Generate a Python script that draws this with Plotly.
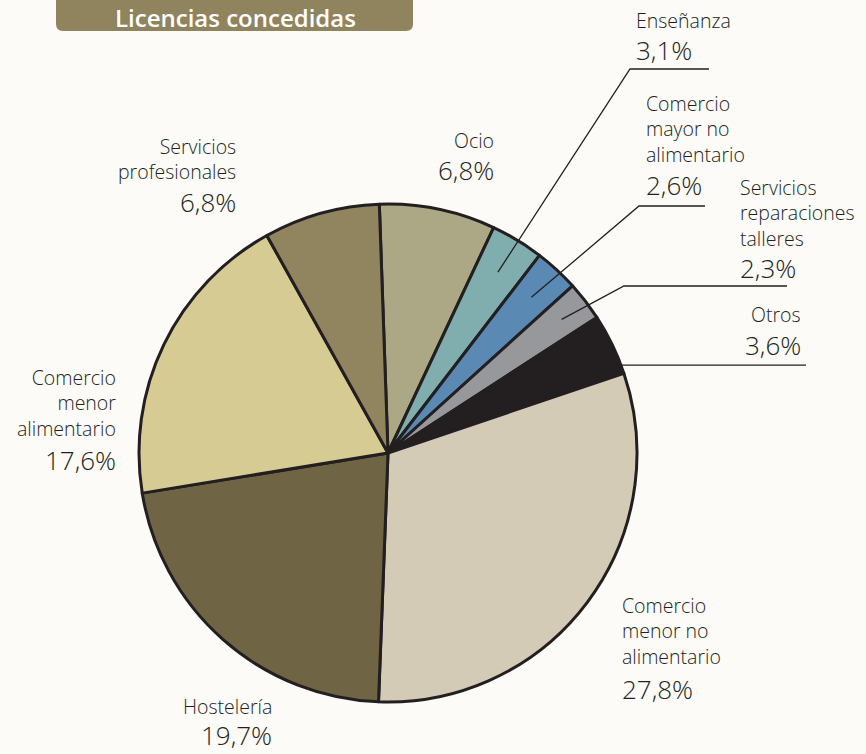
import math
import plotly.graph_objects as go

# Licencias concedidas por actividad (%), en sentido horario desde arriba
sectores = [
    "Ocio",
    "Enseñanza",
    "Comercio mayor no alimentario",
    "Servicios reparaciones talleres",
    "Otros",
    "Comercio menor no alimentario",
    "Hostelería",
    "Comercio menor alimentario",
    "Servicios profesionales",
]
porcentajes = [6.8, 3.1, 2.6, 2.3, 3.6, 27.8, 19.7, 17.6, 6.8]
etiquetas = [
    "Ocio",
    "Enseñanza",
    "Comercio<br>mayor no<br>alimentario",
    "Servicios<br>reparaciones<br>talleres",
    "Otros",
    "Comercio<br>menor no<br>alimentario",
    "Hostelería",
    "Comercio<br>menor<br>alimentario",
    "Servicios<br>profesionales",
]
colores = ["#aca886", "#80adad", "#5a89b4", "#97989b", "#231f20",
           "#d4cbb7", "#6f6444", "#d6cb93", "#918560"]

W, H = 866, 754
CX, CY, R = 388, 453, 249
ROT = -2
FONT = "Open Sans"
INK = "#231f20"


def px(x):
    return x / W


def py(y):
    return 1 - y / H


fig = go.Figure(go.Pie(
    labels=sectores,
    values=porcentajes,
    sort=False,
    direction="clockwise",
    rotation=ROT,
    marker=dict(colors=colores, line=dict(color=INK, width=3)),
    textinfo="none",
    hoverinfo="label+percent",
    showlegend=False,
    domain=dict(x=[px(CX - R), px(CX + R)], y=[py(CY + R), py(CY - R)]),
))

# Placement of each label: (anchor x, name centre y, pct centre y, align)
pos = {
    "Ocio": (496, 140, 170, "right"),
    "Enseñanza": (634, 20, 50, "left"),
    "Comercio mayor no alimentario": (644, 129.5, 185, "left"),
    "Servicios reparaciones talleres": (738, 212.5, 268, "left"),
    "Otros": (803, 315, 345, "right"),
    "Comercio menor no alimentario": (620, 631, 689, "left"),
    "Hostelería": (274, 706, 735, "right"),
    "Comercio menor alimentario": (118, 403, 460, "right"),
    "Servicios profesionales": (238, 159, 202, "right"),
}

for nombre, etq, val in zip(sectores, etiquetas, porcentajes):
    x, yn, yp, al = pos[nombre]
    fig.add_annotation(
        x=px(x), y=py(yn), xref="paper", yref="paper", text=etq,
        showarrow=False, xanchor=al, yanchor="middle", align=al,
        font=dict(family=FONT, size=19.5, color=INK, weight=300),
    )
    fig.add_annotation(
        x=px(x), y=py(yp), xref="paper", yref="paper",
        text=f"{val:.1f}%".replace(".", ","),
        showarrow=False, xanchor=al, yanchor="middle", align=al,
        font=dict(family=FONT, size=26, color=INK, weight=300),
    )

# Slice boundaries (clockwise degrees from 12 o'clock)
total = sum(porcentajes)
acum = 0.0
inicio, final = {}, {}
for nombre, val in zip(sectores, porcentajes):
    inicio[nombre] = ROT + acum / total * 360
    acum += val
    final[nombre] = ROT + acum / total * 360


def punto(ang, f):
    a = math.radians(ang)
    return CX + f * R * math.sin(a), CY - f * R * math.cos(a)


# Leader lines for the narrow slices
guias = {
    "Enseñanza": (0.85, (630, 69), 709),
    "Comercio mayor no alimentario": (0.85, (639, 206), 705),
    "Servicios reparaciones talleres": (0.88, (624, 286), 787),
}
for nombre, (f, codo, fin) in guias.items():
    x0, y0 = punto((inicio[nombre] + final[nombre]) / 2, f)
    path = (f"M {px(x0)},{py(y0)} L {px(codo[0])},{py(codo[1])} "
            f"L {px(fin)},{py(codo[1])}")
    fig.add_shape(type="path", xref="paper", yref="paper", path=path,
                  line=dict(color=INK, width=1.3))

# "Otros" leaves the rim horizontally near the end of its slice
x0, y0 = punto(final["Otros"] - 2, 1.0)
fig.add_shape(type="line", xref="paper", yref="paper",
              x0=px(x0), y0=py(y0), x1=px(806), y1=py(y0),
              line=dict(color=INK, width=1.3))

# Title banner with rounded corners
x0b, x1b, y0b, y1b, rr = 56, 413, -8, 31, 7
banner = (
    f"M {px(x0b)},{py(y0b)} L {px(x1b)},{py(y0b)} "
    f"L {px(x1b)},{py(y1b - rr)} Q {px(x1b)},{py(y1b)} {px(x1b - rr)},{py(y1b)} "
    f"L {px(x0b + rr)},{py(y1b)} Q {px(x0b)},{py(y1b)} {px(x0b)},{py(y1b - rr)} Z"
)
fig.add_shape(type="path", xref="paper", yref="paper", path=banner,
              fillcolor="#8f845e", line=dict(width=0), layer="below")
fig.add_annotation(
    x=px(235), y=py(17), xref="paper", yref="paper",
    text="Licencias concedidas", showarrow=False,
    xanchor="center", yanchor="middle",
    font=dict(family=FONT, size=24, color="white", weight=600),
)

fig.update_layout(
    width=W, height=H,
    margin=dict(l=0, r=0, t=0, b=0),
    paper_bgcolor="#fcfbf7",
    plot_bgcolor="#fcfbf7",
)

fig.write_html("out.html")
